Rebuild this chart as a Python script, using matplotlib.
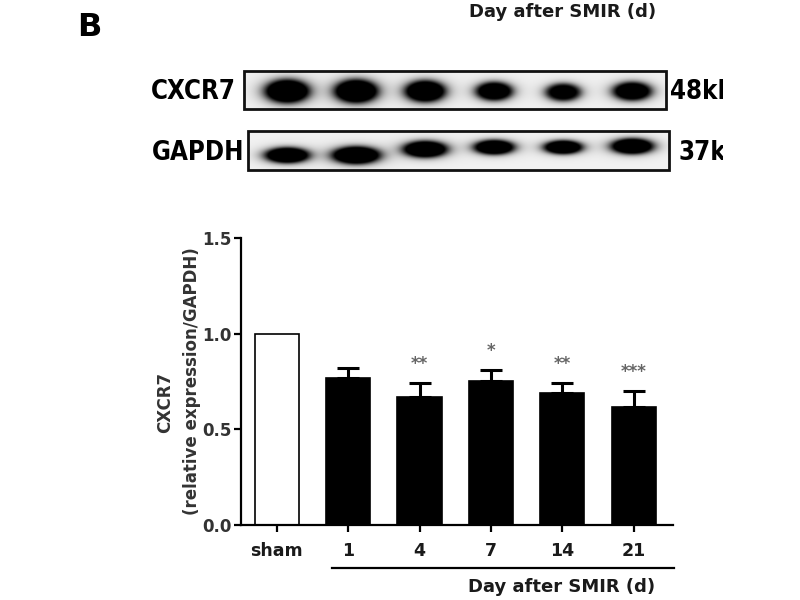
import matplotlib
matplotlib.use('Agg')
import matplotlib.pyplot as plt
import numpy as np
from matplotlib.patches import Rectangle

# quantification data
groups = ['sham', '1', '4', '7', '14', '21']
means = [1.00, 0.77, 0.67, 0.755, 0.69, 0.615]
errors = [0.0, 0.05, 0.07, 0.055, 0.05, 0.085]
stars = ['', '', '**', '*', '**', '***']

# blot band appearance per lane (pixels / darkness)
cxcr7_dark = [1.0, 1.0, 0.97, 0.9, 0.82, 0.9]
cxcr7_width = [46, 45, 42, 38, 36, 40]
cxcr7_height = [24, 24, 22, 19, 18, 19]
cxcr7_y = [91, 91, 91, 91, 92, 91]
gapdh_dark = [0.97, 1.0, 0.97, 0.95, 0.95, 0.97]
gapdh_width = [46, 50, 46, 42, 40, 44]
gapdh_height = [16, 18, 17, 15, 14, 16]
gapdh_y = [155, 155, 149, 147, 147, 146]

txt = '#1a1a1a'

fig = plt.figure(figsize=(8, 6), dpi=100)

# ---- western blot panel (axes in pixel units) ----
lane_px = 69.0
lane0 = 287.0
bx0, bx1, by0, by1 = 240, 725, 60, 178
blot = fig.add_axes([bx0 / 800, 1 - by1 / 600, (bx1 - bx0) / 800, (by1 - by0) / 600])
blot.set_xlim(bx0, bx1)
blot.set_ylim(by1, by0)
blot.axis('off')

gx, gy = np.meshgrid(np.arange(bx0, bx1, 0.5), np.arange(by0, by1, 0.5))
dens = np.zeros_like(gx, dtype=float)
for i in range(len(groups)):
    cx = lane0 + i * lane_px
    for yc, w, h, d in [(cxcr7_y[i], cxcr7_width[i], cxcr7_height[i], cxcr7_dark[i]),
                        (gapdh_y[i], gapdh_width[i], gapdh_height[i], gapdh_dark[i])]:
        r = np.sqrt(((gx - cx) / (w / 2)) ** 2 + ((gy - yc) / (h / 2)) ** 2)
        dens += d / (1 + r ** 6)

boxes = [(244, 71, 666, 109), (248, 131, 669, 170)]
img = np.ones_like(dens)
for x0, y0, x1, y1 in boxes:
    inside = (gx >= x0) & (gx <= x1) & (gy >= y0) & (gy <= y1)
    img[inside] = 0.95 - 0.95 * np.clip(1.35 * dens[inside], 0, 1)
blot.imshow(img, cmap='gray', vmin=0, vmax=1, extent=[bx0, bx1, by1, by0],
            interpolation='bilinear', aspect='auto')
for x0, y0, x1, y1 in boxes:
    blot.add_patch(Rectangle((x0, y0), x1 - x0, y1 - y0, facecolor='none',
                             edgecolor='#111111', lw=2))

lab_kw = dict(va='center', fontsize=18.5, family='DejaVu Sans', stretch='condensed',
              fontweight='bold', color='black')
fig.text(236 / 800, 1 - 92 / 600, 'CXCR7', ha='right', **lab_kw)
fig.text(244 / 800, 1 - 153 / 600, 'GAPDH', ha='right', **lab_kw)
fig.text(670 / 800, 1 - 92 / 600, '48kD', ha='left', **lab_kw)
fig.text(679 / 800, 1 - 153 / 600, '37kD', ha='left', **lab_kw)
fig.text(89 / 800, 1 - 28 / 600, 'B', ha='center', va='center', fontsize=23,
         fontweight='bold', color='black')
fig.text(563 / 800, 1 - 12 / 600, 'Day after SMIR (d)', ha='center', va='center',
         fontsize=13, fontweight='bold', color=txt)

# white mask: the source image is cut off on the right
fig.patches.append(Rectangle((723 / 800, 0.6), 0.2, 0.4, transform=fig.transFigure,
                             facecolor='white', edgecolor='none', zorder=10))

# ---- bar chart ----
ax = fig.add_axes([241 / 800, 1 - 525 / 600, (673 - 241) / 800, (525 - 238) / 600])
x = list(range(len(groups)))
colors = ['white'] + ['black'] * (len(groups) - 1)
ax.bar(x, means, width=0.62, color=colors, edgecolor='black', linewidth=1.2, zorder=2)
ax.errorbar(x[1:], means[1:], yerr=[[0] * 5, errors[1:]], fmt='none', ecolor='black',
            elinewidth=2.2, capsize=8, capthick=2.2, zorder=3)
for xi, m, e, s in zip(x, means, errors, stars):
    if s:
        ax.text(xi, m + e + 0.1, s, ha='center', va='center', fontsize=12,
                fontweight='bold', color='#666666')

ax.set_xlim(-0.5, 5.55)
ax.set_ylim(0, 1.5)
ax.set_yticks([0.0, 0.5, 1.0, 1.5])
ax.set_yticklabels(['0.0', '0.5', '1.0', '1.5'])
ax.set_xticks(x)
ax.set_xticklabels(groups)
for sp in ['top', 'right']:
    ax.spines[sp].set_visible(False)
for sp in ['left', 'bottom']:
    ax.spines[sp].set_linewidth(1.6)
ax.tick_params(axis='y', direction='out', length=5, width=1.6, labelsize=12,
               labelcolor='#333333', pad=2)
ax.tick_params(axis='x', direction='out', length=5, width=1.6, labelsize=12.5,
               labelcolor=txt, pad=7)
for lab in ax.get_xticklabels() + ax.get_yticklabels():
    lab.set_fontweight('bold')

ax.plot([0.77, 5.57], [-0.224, -0.224], color='black', lw=1.6, clip_on=False)
ax.text(3.99, -0.323, 'Day after SMIR (d)', ha='center', va='center', fontsize=13,
        fontweight='bold', color=txt)

fig.text(165 / 800, 1 - 402 / 600, 'CXCR7', rotation=90, ha='center', va='center',
         fontsize=12, fontweight='bold', color='#333333')
fig.text(192 / 800, 1 - 381 / 600, '(relative expression/GAPDH)', rotation=90,
         ha='center', va='center', fontsize=12, fontweight='bold', color='#333333')

fig.savefig('out.png', dpi=100, facecolor='white')
